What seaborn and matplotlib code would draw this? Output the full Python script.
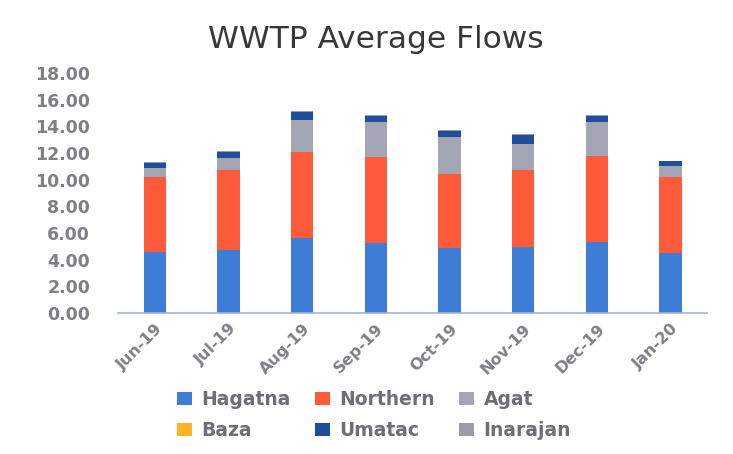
import matplotlib
matplotlib.use("Agg")
import matplotlib.pyplot as plt
import seaborn as sns
import numpy as np
import pandas as pd
from matplotlib.patches import Patch

months = ["Jun-19", "Jul-19", "Aug-19", "Sep-19", "Oct-19", "Nov-19", "Dec-19", "Jan-20"]
hagatna = [4.6, 4.7, 5.6, 5.25, 4.9, 4.95, 5.3, 4.5]
northern = [5.6, 6.0, 6.5, 6.45, 5.5, 5.75, 6.5, 5.7]
agat = [0.65, 0.9, 2.35, 2.6, 2.8, 1.95, 2.5, 0.8]
baza = [0.02, 0.02, 0.03, 0.03, 0.03, 0.03, 0.03, 0.02]
umatac = [0.4, 0.45, 0.6, 0.45, 0.45, 0.7, 0.45, 0.35]
inarajan = [0.05, 0.05, 0.05, 0.05, 0.05, 0.05, 0.05, 0.05]

series = {
    "Hagatna": hagatna,
    "Northern": northern,
    "Agat": agat,
    "Baza": baza,
    "Umatac": umatac,
    "Inarajan": inarajan,
}
colors = {
    "Hagatna": "#3D7DD8",
    "Northern": "#FF5B3A",
    "Agat": "#A3A4B4",
    "Baza": "#FFB320",
    "Umatac": "#1F4E9C",
    "Inarajan": "#9C9CA6",
}

sns.set_theme(style="white")
plt.rcParams["font.family"] = ["DejaVu Sans"]

fig = plt.figure(figsize=(7.33, 4.54), dpi=100)
ax = fig.add_axes([0.161, 0.311, 0.804, 0.528])

bottom = np.zeros(len(months))
for name, vals in series.items():
    df = pd.DataFrame({"month": months, "value": vals})
    sns.barplot(data=df, x="month", y="value", ax=ax, color=colors[name],
                bottom=bottom, width=0.3, saturation=1, edgecolor="none",
                linewidth=0)
    bottom = bottom + np.array(vals)

ax.set_ylim(0, 18)
ax.set_yticks(np.arange(0, 18.01, 2))
ax.set_yticklabels([f"{v:.2f}" for v in np.arange(0, 18.01, 2)])
ax.set_xlim(-0.5, len(months) - 0.5)
ax.set_xlabel("")
ax.set_ylabel("")
for s in ["top", "right", "left"]:
    ax.spines[s].set_visible(False)
ax.spines["bottom"].set_color("#9DB3E0")
ax.spines["bottom"].set_linewidth(1.2)
ax.tick_params(axis="y", length=0, labelsize=12.5, labelcolor="#7F7F86", pad=20)
ax.tick_params(axis="x", length=0, labelsize=11.5, labelcolor="#7F7F86", pad=6)
for lab in ax.get_yticklabels():
    lab.set_fontweight("bold")
for lab in ax.get_xticklabels():
    lab.set_rotation(45)
    lab.set_ha("right")
    lab.set_rotation_mode("anchor")
    lab.set_fontweight("bold")

fig.text(0.513, 0.912, "WWTP Average Flows", ha="center", va="center",
         fontsize=22.5, color="#383838", fontweight="normal")

order = ["Hagatna", "Baza", "Northern", "Umatac", "Agat", "Inarajan"]
handles = [Patch(facecolor=colors[n], edgecolor="none", label=n) for n in order]
leg = fig.legend(handles=handles, loc="center", bbox_to_anchor=(0.51, 0.086),
                 ncol=3, frameon=False, fontsize=13.5, handlelength=0.8,
                 handleheight=0.7, handletextpad=0.5, columnspacing=1.3,
                 labelspacing=0.65)
for t in leg.get_texts():
    t.set_color("#6E6E76")
    t.set_fontweight("bold")

fig.savefig("out.png", dpi=100, facecolor="white")
